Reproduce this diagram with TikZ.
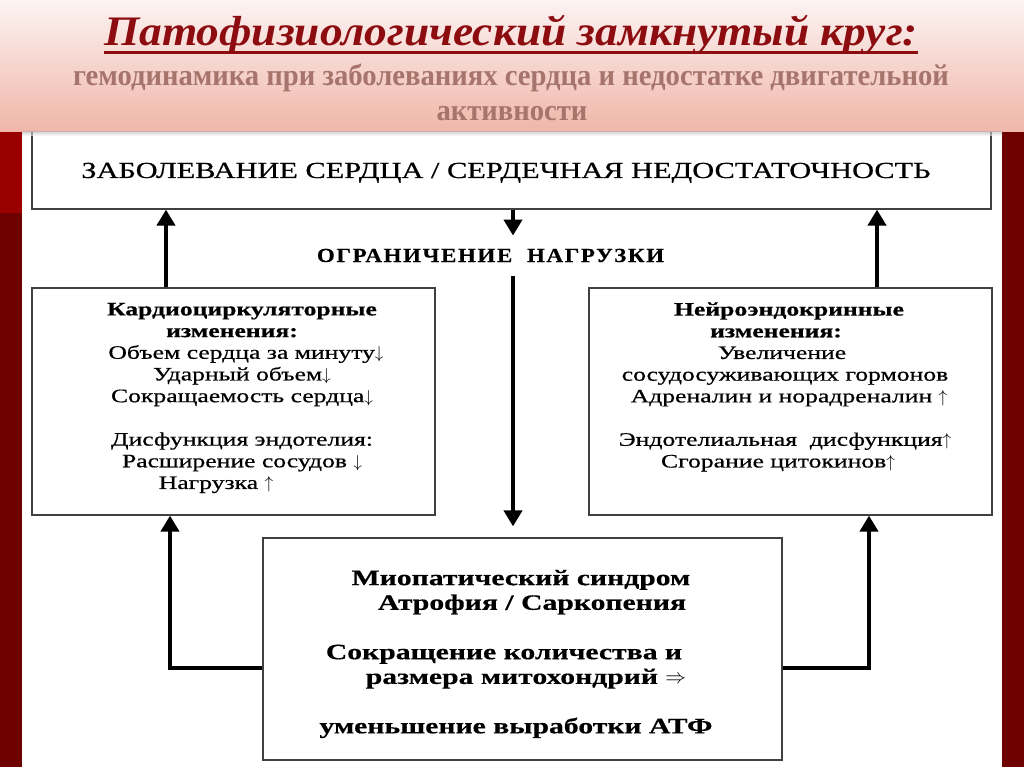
\documentclass[tikz,border=0pt]{standalone}
\usepackage{fontspec}
\setmainfont{Liberation Serif}
\newfontfamily\titlefont[FakeStretch=1.08]{Liberation Serif}
\newfontfamily\subfont[FakeStretch=0.955]{Liberation Serif}
\newfontfamily\topfont[FakeStretch=1.32,FakeBold=0.6]{Liberation Serif}
\newfontfamily\boxfont[FakeStretch=1.35,FakeBold=0.6]{Liberation Serif}
\newfontfamily\botfont[FakeStretch=1.35,FakeBold=0.4]{Liberation Serif}
\newfontfamily\limfont[FakeStretch=1.15,LetterSpace=8,FakeBold=0.4]{Liberation Serif}
\usetikzlibrary{arrows.meta}
\definecolor{stripA}{HTML}{9A0000}
\definecolor{stripB}{HTML}{6E0000}
\definecolor{titlered}{HTML}{8C0C10}
\definecolor{subgray}{HTML}{A6746A}
\definecolor{bandtop}{HTML}{FCF3F2}
\definecolor{bandbot}{HTML}{F0B6A9}
\definecolor{boxline}{HTML}{404040}
\tikzset{
  framebox/.style={draw=boxline, line width=1.2pt, fill=none, inner sep=0pt},
  arr/.style={line width=4.5pt, line join=miter, -{Triangle[width=18pt,length=16pt]}},
  boxtext/.style={align=center, inner sep=0pt, font=\boxfont\fontsize{19}{21.7}\selectfont},
  bottext/.style={align=center, inner sep=0pt, font=\botfont\bfseries\fontsize{22}{24.7}\selectfont},
}
\begin{document}
\begin{tikzpicture}[x=1pt,y=-1pt]
\useasboundingbox (0,0) rectangle (1024,767);
\fill[white] (0,0) rectangle (1024,767);
% side strips
\fill[stripB] (0,130) rectangle (22,767);
\fill[stripA] (0,130) rectangle (22,213);
\fill[stripB] (1002,130) rectangle (1024,767);

% boxes
\node[framebox, minimum width=959pt, minimum height=84pt] (top) at (511.5,167) {};
\node[framebox, minimum width=403pt, minimum height=227pt] (left) at (233.5,401.5) {};
\node[framebox, minimum width=403pt, minimum height=227pt] (right) at (790.5,401.5) {};
\node[framebox, minimum width=519pt, minimum height=222pt] (bot) at (522.5,649) {};

% texts
\node[inner sep=0pt, font=\topfont\fontsize{23}{27}\selectfont, anchor=base] (toptext) at (506,178)
  {ЗАБОЛЕВАНИЕ СЕРДЦА / СЕРДЕЧНАЯ НЕДОСТАТОЧНОСТЬ};
\node[inner sep=0pt, font=\limfont\bfseries\fontsize{20}{23}\selectfont, anchor=base] (limit) at (490.5,262)
  {ОГРАНИЧЕНИЕ\ \ НАГРУЗКИ};
\node[boxtext] (lt) at (242,398)
  {{\bfseries Кардиоциркуляторные}\\{\bfseries изменения:}\kern20pt\\
   \kern8pt Объем сердца за минуту$\downarrow$\\Ударный объем$\downarrow$\\Сокращаемость сердца$\downarrow$\\[21.7pt]
   Дисфункция эндотелия:\\Расширение сосудов $\downarrow$\\Нагрузка $\uparrow$\kern52pt};
\node[boxtext] (rt) at (785,387)
  {\kern8pt{\bfseries Нейроэндокринные}\\{\bfseries изменения:}\kern18pt\\
   Увеличение\kern6pt\\сосудосуживающих гормонов\\\kern8pt Адреналин и норадреналин $\uparrow$\\[21.7pt]
   Эндотелиальная\ \ дисфункция$\uparrow$\\Сгорание цитокинов$\uparrow$\kern14pt};
\node[bottext] (bt) at (521,654)
  {Миопатический синдром\\\kern22pt Атрофия / Саркопения\\[24.7pt]
   Сокращение количества и\kern34pt\\\kern10pt размера митохондрий $\Rightarrow$\\[24.7pt]
   уменьшение выработки АТФ\kern10pt};

% helper coordinates for connector columns
\coordinate (la) at (166,0);
\coordinate (ra) at (877,0);
\coordinate (cc) at (513,0);
\coordinate (fb) at (170,668);
\coordinate (fr) at (869,668);

% connectors
\draw[arr] (left.north -| la) -- (top.south -| la);
\draw[arr] (right.north -| ra) -- (top.south -| ra);
\draw[arr, shorten >=13pt] (top.south -| cc) -- (limit.north -| cc);
\draw[arr, shorten <=14pt, shorten >=11pt] (limit.south -| cc) -- (bot.north -| cc);
\draw[arr] (bot.west |- fb) -| (left.south -| fb);
\draw[arr] (bot.east |- fr) -| (right.south -| fr);

% title band
\shade[top color=bandtop, bottom color=bandbot] (0,0) rectangle (1024,132);
\shade[top color=black!25, bottom color=white, opacity=0.6] (22,132) rectangle (1002,136);
\node[inner sep=0pt, anchor=base, text=titlered, font=\titlefont\bfseries\itshape\fontsize{42}{48}\selectfont] (title) at (511,46)
  {Патофизиологический замкнутый круг:};
\draw[titlered, line width=3pt] ([yshift=-7pt]title.base west) -- ([yshift=-7pt]title.base east);
\node[inner sep=0pt, anchor=base, text=subgray, font=\subfont\bfseries\fontsize{30}{35}\selectfont] (sub1) at (511,86)
  {гемодинамика при заболеваниях сердца и недостатке двигательной};
\node[inner sep=0pt, anchor=base, text=subgray, font=\subfont\bfseries\fontsize{30}{35}\selectfont] (sub2) at (512,121)
  {активности};
\end{tikzpicture}
\end{document}
